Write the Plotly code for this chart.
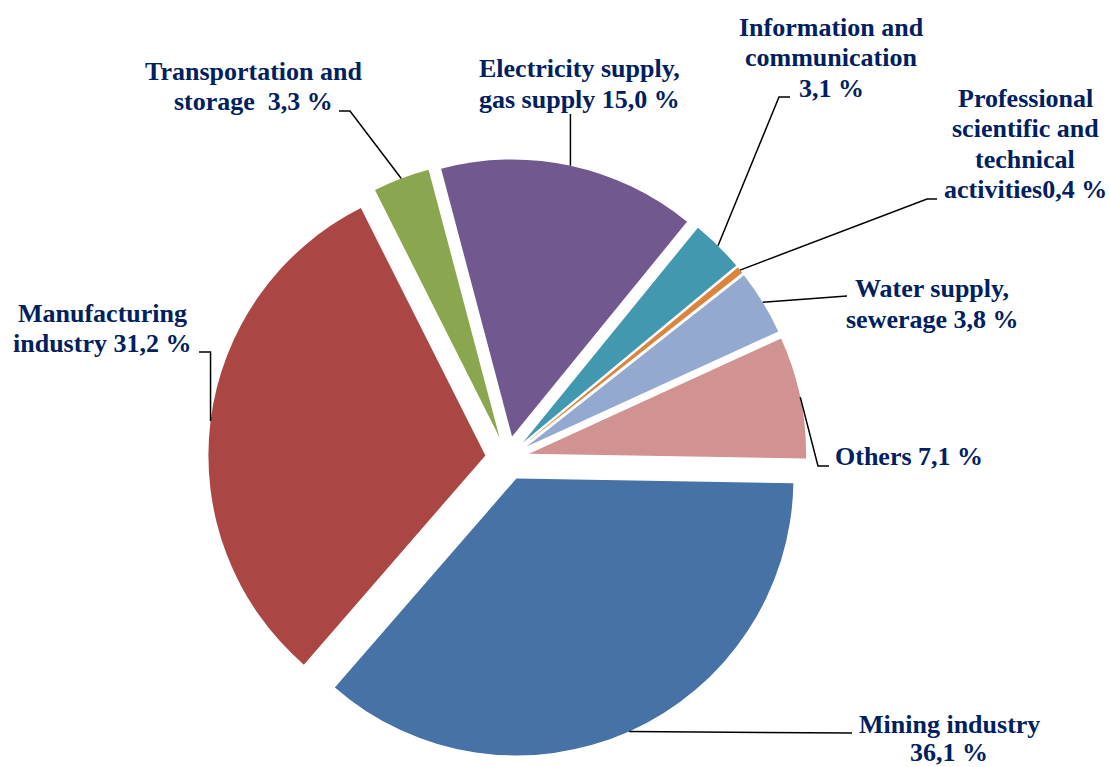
import math
import plotly.graph_objects as go

# Sector shares (%), drawn clockwise starting just below 3 o'clock
sectors = [
    "Mining industry",
    "Manufacturing industry",
    "Transportation and storage",
    "Electricity supply, gas supply",
    "Information and communication",
    "Professional scientific and technical activities",
    "Water supply, sewerage",
    "Others",
]
shares = [36.1, 31.2, 3.3, 15.0, 3.1, 0.4, 3.8, 7.1]
colors = ["#4672A6", "#AA4744", "#8AA64E", "#71588F",
          "#4198AF", "#DB843D", "#93A9CF", "#D19392"]

# Label text, one entry per line; "{}" receives the formatted share
label_lines = [
    ["Mining industry", "{} %"],
    ["Manufacturing", "industry {} %"],
    ["Transportation and", "storage\u00a0\u00a0{} %"],
    ["Electricity supply,", "gas supply {} %"],
    ["Information and", "communication", "{} %"],
    ["Professional", "scientific and", "technical", "activities{} %"],
    ["Water supply,", "sewerage {} %"],
    ["Others {} %"],
]

# ---- layout geometry (pixels) ----
W, H = 1110, 767
ROTATION = 91          # start angle of first slice, degrees clockwise from 12 o'clock
PULL = 0.08
CX, CY = 507.4, 458.2  # pie centre
R = 277.0              # slice radius
box = 2 * R * (1 + PULL)
dom_x = [(CX - box / 2) / W, (CX + box / 2) / W]
dom_y = [1 - (CY + box / 2) / H, 1 - (CY - box / 2) / H]

# label placement: centre x, baseline y of each line
label_pos = [
    (949, [733, 761]),
    (102, [322, 352]),
    (253, [80, 110]),
    (579, [77, 108]),
    (831, [36, 66, 97]),
    (1025, [107, 137, 168, 198]),
    (932, [297, 328]),
    (909, [465]),
]
# leader line path after leaving the slice: list of points toward the label
leader_tail = [
    [(852, 733)],
    [None, (199, 352)],          # None -> vertical rise to label baseline
    [(350, 111), (339, 111)],
    [None],
    [(779, 97), (790, 97)],
    [(927, 199), (937, 199)],
    [(847, 296)],
    [(818, 466), (829, 466)],
]
label_baseline_for_vertical = [None, 352, None, 114, None, None, None, None]

FONT = dict(family="Liberation Serif, Times New Roman, serif", size=26,
            color="#002060", weight="bold")


def fmt(v):
    return f"{v:.1f}".replace(".", ",")


def px_to_paper(x, y):
    return x / W, 1 - y / H


fig = go.Figure(go.Pie(
    labels=sectors,
    values=shares,
    sort=False,
    direction="clockwise",
    rotation=ROTATION,
    pull=PULL,
    marker=dict(colors=colors, line=dict(width=0)),
    textinfo="none",
    hoverinfo="label+percent",
    domain=dict(x=dom_x, y=dom_y),
))

# leader lines from the middle of each slice's outer arc
total = sum(shares)
angle = ROTATION
shapes = []
for i, v in enumerate(shares):
    span = 360 * v / total
    mid = math.radians(angle + span / 2)
    angle += span
    dx, dy = math.sin(mid), -math.cos(mid)
    sx = CX + (R + PULL * R) * dx
    sy = CY + (R + PULL * R) * dy
    pts = [(sx, sy)]
    for p in leader_tail[i]:
        if p is None:
            pts.append((sx, label_baseline_for_vertical[i]))
        else:
            pts.append(p)
    path = ""
    for k, (x, y) in enumerate(pts):
        px, py = px_to_paper(x, y)
        path += ("M" if k == 0 else " L") + f" {px:.5f},{py:.5f}"
    shapes.append(dict(type="path", path=path, xref="paper", yref="paper",
                       line=dict(color="black", width=1.5)))

annotations = []
ASC, DESC = 0.891, 0.216
for i, lines in enumerate(label_lines):
    cx, baselines = label_pos[i]
    for line, base in zip(lines, baselines):
        text = line.format(fmt(shares[i])) if "{}" in line else line
        mid_y = base - (ASC - DESC) / 2 * FONT["size"]
        px, py = px_to_paper(cx, mid_y)
        annotations.append(dict(
            text=text, x=px, y=py, xref="paper", yref="paper",
            xanchor="center", yanchor="middle", showarrow=False,
            font=FONT,
        ))

fig.update_layout(
    width=W, height=H,
    margin=dict(l=0, r=0, t=0, b=0),
    paper_bgcolor="white",
    plot_bgcolor="white",
    showlegend=False,
    shapes=shapes,
    annotations=annotations,
)

fig.write_html("out.html")
